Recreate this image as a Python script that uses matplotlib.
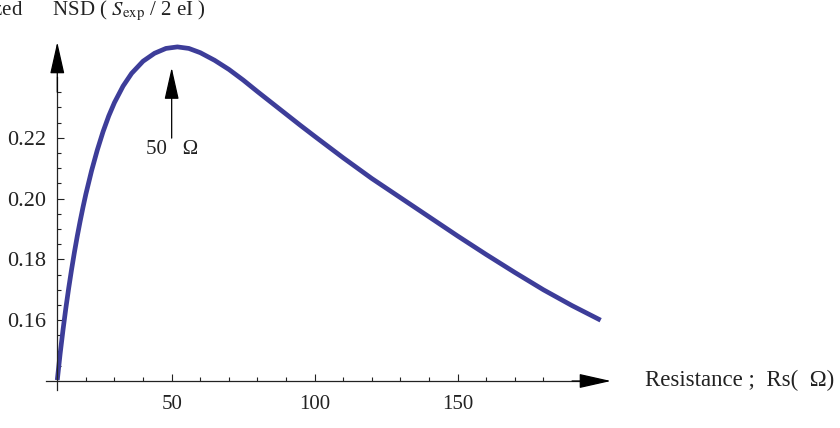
import matplotlib
matplotlib.use("Agg")
import matplotlib.pyplot as plt
from matplotlib.ticker import FixedLocator, FixedFormatter

plt.rcParams['font.family'] = ['Liberation Serif', 'DejaVu Serif']
plt.rcParams['mathtext.fontset'] = 'stix'

# Curve (resistance in ohm, normalized NSD)
resistance = [10, 11, 12, 13, 14, 15, 16, 17, 18, 19, 20, 22, 24, 26, 28, 30,
              33, 36, 40, 44, 48, 52, 56, 60, 65, 70, 75, 80, 85, 90, 95, 100,
              110, 120, 130, 140, 150, 160, 170, 180, 190, 200]
nsd = [0.1403, 0.1490, 0.1568, 0.1640, 0.1706, 0.1767, 0.1824, 0.1877, 0.1926,
       0.1972, 0.2015, 0.2092, 0.2160, 0.2220, 0.2272, 0.2316, 0.2370, 0.2412,
       0.2452, 0.2478, 0.2494, 0.2499, 0.2494, 0.2480, 0.2455, 0.2425, 0.2390,
       0.2352, 0.2315, 0.2278, 0.2241, 0.2205, 0.2134, 0.2066, 0.2003, 0.1940,
       0.1877, 0.1816, 0.1757, 0.1700, 0.1648, 0.1600]

x_major = [50, 100, 150]
x_minor = [20, 30, 40, 60, 70, 80, 90, 110, 120, 130, 140, 160, 170, 180]
y_major = [0.16, 0.18, 0.20, 0.22]
y_major_labels = ['0.16', '0.18', '0.20', '0.22']
y_minor = [0.145, 0.150, 0.155, 0.165, 0.170, 0.175, 0.185, 0.190, 0.195,
           0.205, 0.210, 0.215, 0.225, 0.230, 0.235]

fig = plt.figure(figsize=(8.4, 4.28), dpi=100)
ax = fig.add_axes([0, 0, 1, 1])
ax.set_xlim(-10.03, 283.7)
ax.set_ylim(0.12454, 0.26533)

axis_color = '#222222'
for s in ['top', 'right']:
    ax.spines[s].set_visible(False)
ax.spines['left'].set_position(('data', 10))
ax.spines['bottom'].set_position(('data', 0.14))
ax.spines['left'].set_bounds(0.137, 0.24)
ax.spines['bottom'].set_bounds(6, 195)
for s in ['left', 'bottom']:
    ax.spines[s].set_color(axis_color)
    ax.spines[s].set_linewidth(0.9)

ax.xaxis.set_major_locator(FixedLocator(x_major))
ax.xaxis.set_minor_locator(FixedLocator(x_minor))
ax.yaxis.set_major_locator(FixedLocator(y_major))
ax.yaxis.set_major_formatter(FixedFormatter(y_major_labels))
ax.yaxis.set_minor_locator(FixedLocator(y_minor))
ax.tick_params(which='both', direction='in', color=axis_color, width=0.8,
               labelcolor='#222222')
ax.tick_params(which='major', length=5)
ax.tick_params(which='minor', length=3)
ax.tick_params(axis='x', which='major', pad=10, labelsize=15)
ax.tick_params(axis='y', which='major', pad=8, labelsize=16)

# Axis arrowheads
head = dict(arrowstyle='-|>,head_length=2.0,head_width=0.45', color='black',
            lw=0.9, mutation_scale=10, shrinkA=0, shrinkB=0)
ax.annotate('', xy=(203.6, 0.14), xytext=(190, 0.14), arrowprops=head)
ax.annotate('', xy=(10, 0.2515), xytext=(10, 0.235), arrowprops=head)

ax.plot(resistance, nsd, color='#3D3D99', lw=3.4, solid_capstyle='butt',
        solid_joinstyle='round', clip_on=False)

# Peak marker
ax.annotate('', xy=(50, 0.2431), xytext=(50, 0.2199), arrowprops=head)
ax.text(50, 0.2160, '50   \u03a9', ha='center', va='center', fontsize=15,
        color='#222222')

ax.text(645, 48, 'Resistance ;  Rs(  \u03a9)', transform=None, ha='left',
        va='center', fontsize=16.5, color='#222222')
ax.text(206, 417, 'Normalized      NSD ( $S_{\\mathrm{exp}}$ / 2 eI )',
        transform=None, ha='right', va='center', fontsize=15, color='#222222')

fig.savefig('out.png', dpi=100)
